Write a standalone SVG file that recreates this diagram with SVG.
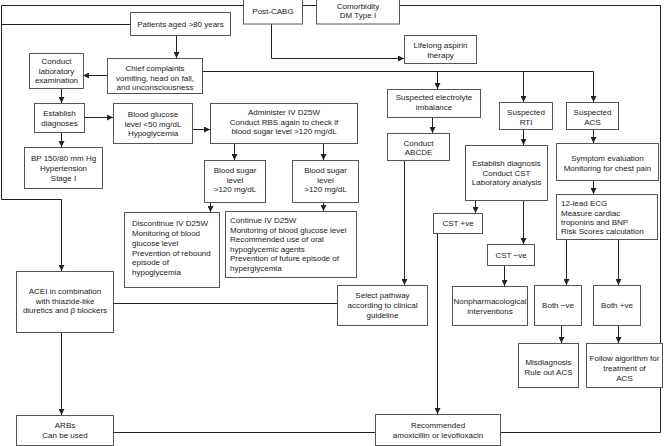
<svg xmlns="http://www.w3.org/2000/svg" width="669" height="446" viewBox="0 0 669 446">
<defs>
<marker id="ah" markerWidth="6" markerHeight="6" refX="6" refY="3" orient="auto" markerUnits="userSpaceOnUse"><path d="M0,0 L6,3 L0,6 z" fill="#222"/></marker>
<style>
rect{fill:#fff;stroke:#555;stroke-width:1}
text{font-family:"Liberation Sans",Arial,sans-serif;font-size:8px;fill:#222;text-anchor:middle}
text.l{text-anchor:start}
#connectors path{fill:none;stroke:#222;stroke-width:1}
#connectors path.a{marker-end:url(#ah)}
</style>
</defs>
<rect x="0" y="0" width="669" height="446" style="fill:#fff;stroke:none"/>
<g id="connectors">
<path d="M243,5.5 H1.5 V199.5 H61.5 V271"/>
<path class="a" d="M61.5,199.5 V271"/>
<path d="M1.5,24.5 H130"/>
<path d="M302,5.5 H316"/>
<path d="M399,5.5 H660.5 V432.5 H500"/>
<path class="a" d="M271.5,24 V58.5 H404"/>
<path class="a" d="M176.5,35 V58"/>
<path class="a" d="M107,75.5 H83"/>
<path d="M202,71.5 H593.5"/>
<path class="a" d="M437.5,71.5 V89"/>
<path class="a" d="M523.5,71.5 V102"/>
<path class="a" d="M593.5,71.5 V102"/>
<path class="a" d="M61.5,88 V103"/>
<path class="a" d="M84,117.5 H113"/>
<path class="a" d="M61.5,132 V147"/>
<path class="a" d="M192,129.5 H210"/>
<path class="a" d="M234.5,143 V160"/>
<path class="a" d="M323.5,143 V160"/>
<path class="a" d="M210.5,202 V212"/>
<path class="a" d="M323.5,202 V211"/>
<path class="a" d="M432.5,117 V133"/>
<path class="a" d="M404.5,160 V285"/>
<path d="M113,303.5 H337"/>
<path class="a" d="M61.5,332 V415"/>
<path d="M113,432.5 H375"/>
<path class="a" d="M523.5,129 V145"/>
<path class="a" d="M475.5,200 V213"/>
<path class="a" d="M523.5,200 V244"/>
<path class="a" d="M437.5,233 V414"/>
<path class="a" d="M504.5,265 V286"/>
<path class="a" d="M593.5,129 V143"/>
<path class="a" d="M593.5,180 V194"/>
<path class="a" d="M566.5,239 V285"/>
<path class="a" d="M618.5,239 V285"/>
<path class="a" d="M561.5,325 V343"/>
<path class="a" d="M618.5,325 V343"/>
</g>
<g id="post"><rect x="243.5" y="-1" width="59" height="25"/><text x="273" y="14">Post-CABG</text></g>
<g id="comorbidity"><rect x="316.5" y="-1" width="83" height="25"/><text x="358" y="8.7">Comorbidity</text><text x="358" y="18.3">DM Type I</text></g>
<g id="patients"><rect x="130.5" y="12.5" width="100" height="23"/><text x="180.5" y="26.5">Patients aged &gt;80 years</text></g>
<g id="lifelong"><rect x="404.5" y="35.5" width="72" height="28"/><text x="440.5" y="48">Lifelong aspirin</text><text x="440.5" y="57.5">therapy</text></g>
<g id="chief"><rect x="107.5" y="58.5" width="95" height="35"/><text x="155" y="71">Chief complaints</text><text x="155" y="81">vomiting, head on fall,</text><text x="155" y="90">and unconsciousness</text></g>
<g id="lab"><rect x="29.5" y="53.5" width="54" height="35"/><text x="56.5" y="64">Conduct</text><text x="56.5" y="74">laboratory</text><text x="56.5" y="83">examination</text></g>
<g id="establish"><rect x="34.5" y="103.5" width="50" height="29"/><text x="59.5" y="116">Establish</text><text x="59.5" y="126">diagnoses</text></g>
<g id="bg50"><rect x="113.5" y="103.5" width="79" height="40"/><text x="153" y="117">Blood glucose</text><text x="153" y="127">level &lt;50 mg/dL</text><text x="153" y="136">Hypoglycemia</text></g>
<g id="administer"><rect x="210.5" y="103.5" width="147" height="40"/><text x="284" y="115">Administer IV D25W</text><text x="284" y="125">Conduct RBS again to check if</text><text x="284" y="134">blood sugar level &gt;120 mg/dL</text></g>
<g id="bp"><rect x="24.5" y="147.5" width="78" height="41"/><text x="63.5" y="161">BP 150/80 mm Hg</text><text x="63.5" y="171">Hypertension</text><text x="63.5" y="181">Stage I</text></g>
<g id="bs1"><rect x="204.5" y="160.5" width="61" height="42"/><text x="235" y="173">Blood sugar</text><text x="235" y="182.5">level</text><text x="235" y="192">&gt;120 mg/dL</text></g>
<g id="bs2"><rect x="292.5" y="160.5" width="66" height="42"/><text x="325.5" y="173">Blood sugar</text><text x="325.5" y="182.5">level</text><text x="325.5" y="192">&gt;120 mg/dL</text></g>
<g id="discontinue"><rect x="124.5" y="212.5" width="95" height="75"/><text class="l" x="132" y="226">Discontinue IV D25W</text><text class="l" x="132" y="236">Monitoring of blood</text><text class="l" x="132" y="246">glucose level</text><text class="l" x="132" y="256">Prevention of rebound</text><text class="l" x="132" y="265">episode of</text><text class="l" x="132" y="275">hypoglycemia</text></g>
<g id="continue"><rect x="225.5" y="211.5" width="131" height="66"/><text class="l" x="230" y="223">Continue IV D25W</text><text class="l" x="230" y="233">Monitoring of blood glucose level</text><text class="l" x="230" y="242">Recommended use of oral</text><text class="l" x="230" y="252">hypoglycemic agents</text><text class="l" x="230" y="261">Prevention of future episode of</text><text class="l" x="230" y="271">hyperglycemia</text></g>
<g id="electrolyte"><rect x="387.5" y="89.5" width="93" height="28"/><text x="434" y="100">Suspected electrolyte</text><text x="434" y="110">imbalance</text></g>
<g id="abcde"><rect x="387.5" y="133.5" width="62" height="27"/><text x="418.5" y="146">Conduct</text><text x="418.5" y="155">ABCDE</text></g>
<g id="select"><rect x="337.5" y="285.5" width="90" height="40"/><text x="382.5" y="298">Select pathway</text><text x="382.5" y="308">according to clinical</text><text x="382.5" y="318">guideline</text></g>
<g id="acei"><rect x="16.5" y="271.5" width="97" height="61"/><text x="65" y="294">ACEI in combination</text><text x="65" y="303.5">with thiazide-like</text><text x="65" y="313">diuretics and β blockers</text></g>
<g id="arbs"><rect x="16.5" y="415.5" width="97" height="30"/><text x="65" y="428">ARBs</text><text x="65" y="438">Can be used</text></g>
<g id="recommended"><rect x="375.5" y="414.5" width="125" height="31"/><text x="438" y="428">Recommended</text><text x="438" y="438">amoxicillin or levofloxacin</text></g>
<g id="rti"><rect x="499.5" y="102.5" width="53" height="27"/><text x="526" y="115">Suspected</text><text x="526" y="125">RTI</text></g>
<g id="acs"><rect x="566.5" y="102.5" width="52" height="27"/><text x="592.5" y="115">Suspected</text><text x="592.5" y="125">ACS</text></g>
<g id="estdiag"><rect x="465.5" y="145.5" width="82" height="55"/><text x="506.5" y="166">Establish diagnosis</text><text x="506.5" y="175.5">Conduct CST</text><text x="506.5" y="185">Laboratory analysis</text></g>
<g id="cstpos"><rect x="433.5" y="213.5" width="49" height="20"/><text x="458" y="225.5">CST +ve</text></g>
<g id="cstneg"><rect x="487.5" y="244.5" width="47" height="21"/><text x="511" y="258">CST −ve</text></g>
<g id="nonpharm"><rect x="452.5" y="286.5" width="75" height="39"/><text x="490" y="304">Nonpharmacological</text><text x="490" y="314">interventions</text></g>
<g id="symptom"><rect x="556.5" y="143.5" width="102" height="37"/><text x="607.5" y="161">Symptom evaluation</text><text x="607.5" y="171">Monitoring for chest pain</text></g>
<g id="ecg"><rect x="556.5" y="194.5" width="101" height="45"/><text class="l" x="561" y="206">12-lead ECG</text><text class="l" x="561" y="215.5">Measure cardiac</text><text class="l" x="561" y="225">troponins and BNP</text><text class="l" x="561" y="234">Risk Scores calculation</text></g>
<g id="bothneg"><rect x="534.5" y="285.5" width="47" height="40"/><text x="558" y="308">Both −ve</text></g>
<g id="bothpos"><rect x="593.5" y="285.5" width="47" height="40"/><text x="617" y="308">Both +ve</text></g>
<g id="misdiag"><rect x="518.5" y="343.5" width="60" height="44"/><text x="548.5" y="365">Misdiagnosis</text><text x="548.5" y="375">Rule out ACS</text></g>
<g id="follow"><rect x="586.5" y="343.5" width="76" height="44"/><text x="624.5" y="361">Follow algorithm for</text><text x="624.5" y="371">treatment of</text><text x="624.5" y="381">ACS</text></g>
</svg>
